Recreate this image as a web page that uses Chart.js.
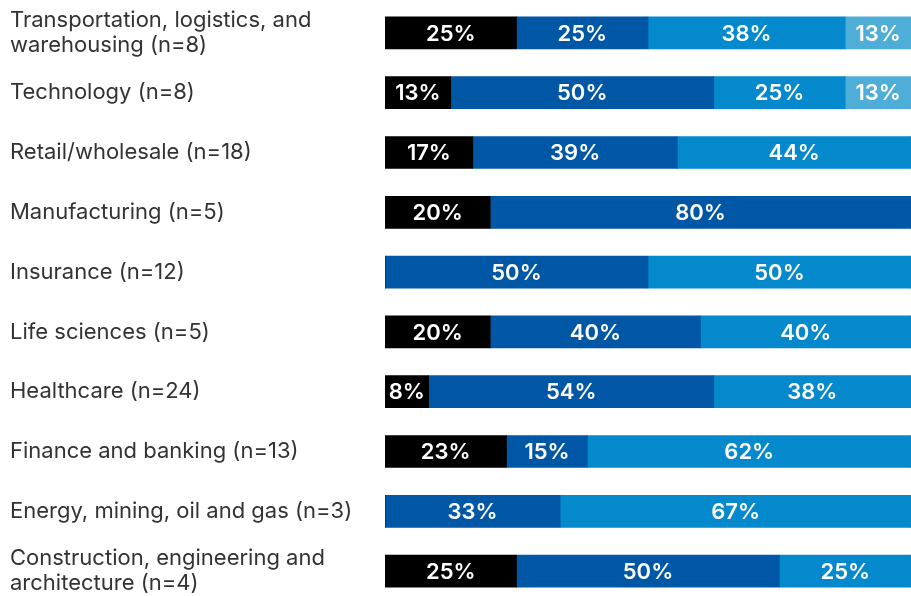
<!DOCTYPE html>
<html><head><meta charset="utf-8">
<script src="https://cdn.jsdelivr.net/npm/chart.js@4"></script>
<style>html,body{margin:0;padding:0;background:#fff;overflow:hidden}#wrap{width:911px;height:602px;position:relative}</style>
</head><body><div id="wrap"><canvas id="c"></canvas></div>
<script>
const categories = [
  ["Transportation, logistics, and", "warehousing (n=8)"],
  "Technology (n=8)",
  "Retail/wholesale (n=18)",
  "Manufacturing (n=5)",
  "Insurance (n=12)",
  "Life sciences (n=5)",
  "Healthcare (n=24)",
  "Finance and banking (n=13)",
  "Energy, mining, oil and gas (n=3)",
  ["Construction, engineering and", "architecture (n=4)"]
];
const series1 = [25, 12.5, 16.7, 20, 0, 20, 8.3, 23.1, 0, 25];
const series2 = [25, 50, 38.9, 80, 50, 40, 54.2, 15.4, 33.3, 50];
const series3 = [37.5, 25, 44.4, 0, 50, 40, 37.5, 61.5, 66.7, 25];
const series4 = [12.5, 12.5, 0, 0, 0, 0, 0, 0, 0, 0];
const colors = ["#000000", "#0057a6", "#0489cc", "#4eaed8"];

const labelPlugin = {
  id: 'barLabels',
  afterDatasetsDraw(chart) {
    const ctx = chart.ctx;
    ctx.save();
    ctx.fillStyle = '#ffffff';
    ctx.font = '600 22px Inter, "Liberation Sans", sans-serif';
    ctx.textAlign = 'center';
    ctx.textBaseline = 'middle';
    chart.data.datasets.forEach((ds, i) => {
      const meta = chart.getDatasetMeta(i);
      meta.data.forEach((el, j) => {
        const v = ds.data[j];
        if (!v) return;
        const cx = (el.x + el.base) / 2;
        ctx.fillText(Math.round(v) + '%', cx, el.y + 1);
      });
    });
    ctx.restore();
  }
};

new Chart(document.getElementById('c'), {
  type: 'bar',
  data: {
    labels: categories,
    datasets: [series1, series2, series3, series4].map((d, i) => ({
      data: d, backgroundColor: colors[i], borderWidth: 0, barThickness: 32
    }))
  },
  options: {
    indexAxis: 'y',
    responsive: true,
    maintainAspectRatio: false,
    animation: false,
    layout: { padding: { left: 10, right: 0, top: 3, bottom: 1 } },
    plugins: { legend: { display: false }, tooltip: { enabled: false } },
    scales: {
      x: { stacked: true, min: 0, max: 100, display: false },
      y: {
        stacked: true,
        grid: { display: false },
        border: { display: false },
        afterFit(s) { s.width = 375; s.paddingTop = 0; s.paddingBottom = 0; },
        ticks: {
          crossAlign: 'far',
          padding: 0,
          color: '#333333',
          font: { family: 'Inter, "Liberation Sans", sans-serif', size: 22, lineHeight: 1.15 }
        }
      }
    }
  },
  plugins: [labelPlugin]
});
</script></body></html>
